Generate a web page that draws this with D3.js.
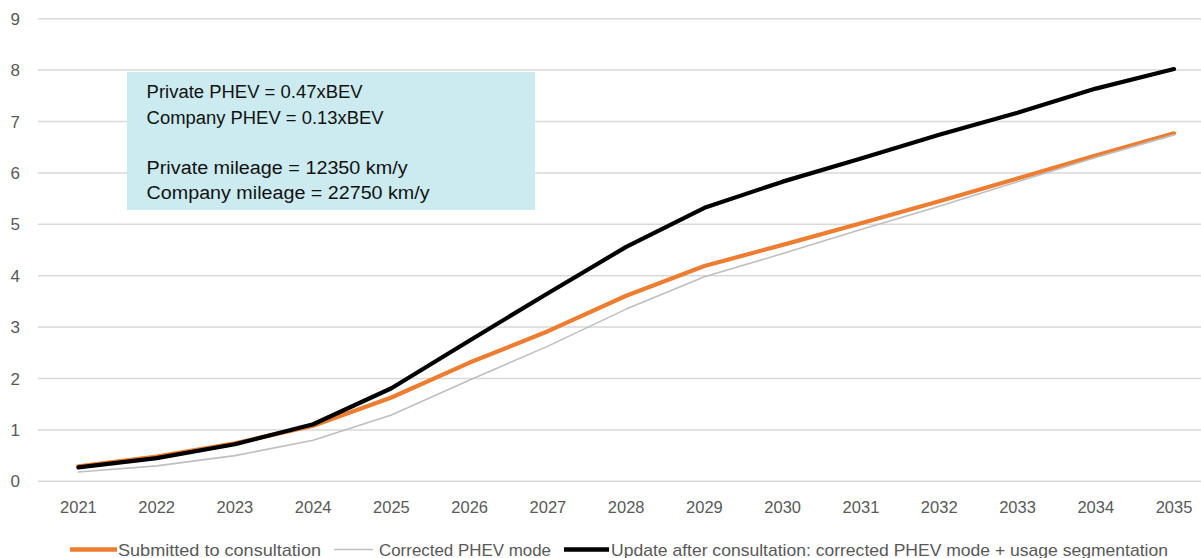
<!DOCTYPE html>
<html>
<head>
<meta charset="utf-8">
<script src="https://cdn.jsdelivr.net/npm/d3@7"></script>
<style>
  html, body { margin: 0; padding: 0; background: #fff; }
  svg { display: block; }
  text { font-family: "Liberation Sans", Arial, sans-serif; }
</style>
</head>
<body>
<svg id="chart" width="1201" height="558"></svg>
<script>
// ---- data ----
const years = ["2021","2022","2023","2024","2025","2026","2027","2028","2029","2030","2031","2032","2033","2034","2035"];
const submitted = [0.29, 0.48, 0.74, 1.08, 1.63, 2.31, 2.92, 3.61, 4.19, 4.60, 5.02, 5.45, 5.89, 6.34, 6.77];
const corrected = [0.18, 0.30, 0.50, 0.80, 1.29, 1.97, 2.63, 3.35, 3.98, 4.43, 4.90, 5.35, 5.83, 6.30, 6.74];
const updated   = [0.27, 0.45, 0.72, 1.11, 1.81, 2.74, 3.66, 4.56, 5.32, 5.83, 6.28, 6.74, 7.17, 7.64, 8.02];
const yTicks = [0,1,2,3,4,5,6,7,8,9];
const seriesNames = ["Submitted to consultation", "Corrected PHEV mode", "Update after consultation: corrected PHEV mode + usage segmentation"];
const noteLines = ["Private PHEV = 0.47xBEV", "Company PHEV = 0.13xBEV", "", "Private mileage = 12350 km/y", "Company mileage = 22750 km/y"];

// ---- layout ----
const svg = d3.select("#chart");
const x = d3.scalePoint().domain(years).range([78.4, 1174]);
const y = d3.scaleLinear().domain([0, 9]).range([481.3, 18.7]);
const gridLeft = 38, gridRight = 1201;

// gridlines
svg.append("g").selectAll("line").data(yTicks).join("line")
  .attr("x1", gridLeft).attr("x2", gridRight)
  .attr("y1", d => y(d)).attr("y2", d => y(d))
  .attr("stroke", "#D9D9D9").attr("stroke-width", 1.5);

// y labels
svg.append("g").selectAll("text").data(yTicks).join("text")
  .attr("x", 20).attr("y", d => y(d)).attr("dy", "0.36em")
  .attr("text-anchor", "end").attr("font-size", 17).attr("fill", "#595959")
  .text(d => d);

// x labels
svg.append("g").selectAll("text").data(years).join("text")
  .attr("x", d => x(d)).attr("y", 512.7)
  .attr("text-anchor", "middle").attr("font-size", 16.5).attr("fill", "#595959")
  .text(d => d);

// text box
svg.append("rect").attr("x", 127).attr("y", 72).attr("width", 408).attr("height", 138)
  .attr("fill", "#CBEBF0");
const noteBaselines = [98.3, 124.3, 149.3, 174.3, 199.3];
const noteWidths = [216, 237, 0, 261, 283];
svg.append("g").selectAll("text").data(noteLines).join("text")
  .attr("x", 146.6).attr("y", (d, i) => noteBaselines[i])
  .attr("font-size", 18).attr("fill", "#111")
  .each(function(d, i) { if (noteWidths[i]) d3.select(this).attr("textLength", noteWidths[i]).attr("lengthAdjust", "spacingAndGlyphs"); })
  .text(d => d);

// lines
const line = d3.line().x((d, i) => x(years[i])).y(d => y(d));
const series = [
  { values: submitted, color: "#ED7D31", width: 4.2 },
  { values: corrected, color: "#BFBFBF", width: 1.6 },
  { values: updated,   color: "#000000", width: 4.2 }
];
svg.append("g").selectAll("path").data(series).join("path")
  .attr("d", d => line(d.values))
  .attr("fill", "none").attr("stroke", d => d.color).attr("stroke-width", d => d.width)
  .attr("stroke-linejoin", "round").attr("stroke-linecap", "round");

// legend
const legendItems = [
  { name: seriesNames[0], color: "#ED7D31", width: 4.5, x1: 70, x2: 117, tx: 118, tw: 203 },
  { name: seriesNames[1], color: "#BFBFBF", width: 1.6, x1: 334, x2: 373, tx: 379, tw: 172 },
  { name: seriesNames[2], color: "#000000", width: 4.5, x1: 564, x2: 609, tx: 611, tw: 557 }
];
const lg = svg.append("g");
lg.selectAll("line").data(legendItems).join("line")
  .attr("x1", d => d.x1).attr("x2", d => d.x2).attr("y1", 549.5).attr("y2", 549.5)
  .attr("stroke", d => d.color).attr("stroke-width", d => d.width);
lg.selectAll("text").data(legendItems).join("text")
  .attr("x", d => d.tx).attr("y", 555.5)
  .attr("font-size", 17).attr("fill", "#595959")
  .attr("textLength", d => d.tw).attr("lengthAdjust", "spacingAndGlyphs")
  .text(d => d.name);
</script>
</body>
</html>
